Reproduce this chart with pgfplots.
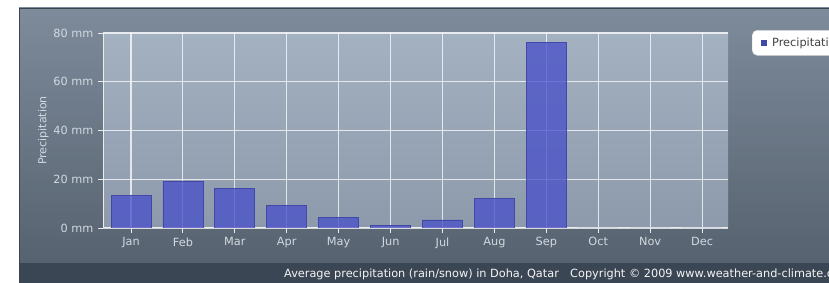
\documentclass[border=0pt]{standalone}
\usepackage{pgfplots}
\pgfplotsset{compat=1.18}
\usepackage{fontspec}
\setmainfont{DejaVu Sans}
\definecolor{frametop}{HTML}{7E8B9B}
\definecolor{framebot}{HTML}{56626F}
\definecolor{strip}{HTML}{3B4655}
\definecolor{plottop}{HTML}{A3B1C1}
\definecolor{plotbot}{HTML}{8D9AAB}
\definecolor{barfill}{HTML}{4A52C8}
\definecolor{bardraw}{HTML}{4148A8}
\definecolor{ticktext}{HTML}{D2D9E0}
\begin{document}
\begin{tikzpicture}[x=1pt,y=1pt]
\path[use as bounding box] (0,0) rectangle (829,283);
\begin{scope}
\clip (0,0) rectangle (829,283);
\fill[white] (0,0) rectangle (829,283);
\shade[top color=frametop, bottom color=framebot] (19,20) rectangle (829,275);
\fill[strip] (19,0) rectangle (829,20);
\draw[color=framebot!70!black, line width=0.8pt] (19,0) -- (19,275) -- (829,275);
\shade[top color=plottop, bottom color=plotbot] (103,55) rectangle (728,250);
\begin{axis}[
  at={(103pt,55pt)}, anchor=south west,
  scale only axis, width=625pt, height=195pt,
  xmin=-0.54, xmax=11.5, ymin=0, ymax=80,
  ybar, bar width=40pt,
  xtick={0,...,11},
  xticklabels={Jan,Feb,Mar,Apr,May,Jun,Jul,Aug,Sep,Oct,Nov,Dec},
  ytick={0,20,40,60,80},
  yticklabels={0 mm,20 mm,40 mm,60 mm,80 mm},
  tick label style={font=\fontsize{11.3}{13}\selectfont, text=ticktext},
  xticklabel style={yshift=-1pt},
  yticklabel style={xshift=-1pt},
  tick align=outside, major tick length=5pt,
  tick style={draw=white!85!gray, line width=0.9pt},
  xmajorgrids, ymajorgrids,
  grid style={draw=white, draw opacity=0.75, line width=1.1pt},
  axis line style={draw=white!85!gray, line width=1pt},
  axis x line*=bottom, axis y line*=left,
  ylabel={Precipitation},
  ylabel style={font=\fontsize{11}{13}\selectfont, text=ticktext},
  ylabel shift=-2pt,
  legend style={at={(rel axis cs:1.0384,1.015)}, anchor=north west,
     draw=gray!35, fill=white, rounded corners=5pt, font=\fontsize{11.3}{13}\selectfont, text=black!75,
     inner xsep=9pt, inner ysep=5.5pt},
  legend image code/.code={\path[draw=none,fill=none] (0pt,0pt) -- (9pt,0pt);\fill[sharp corners,draw=none,fill=bardraw,fill opacity=1] (0pt,-3pt) rectangle (6pt,3pt);},
]
\addplot[fill=barfill, fill opacity=0.78, draw=bardraw, line width=0.8pt]
  coordinates {(0,13.3) (1,19.0) (2,16.3) (3,9.2) (4,4.2) (5,1.2) (6,3.3) (7,12.2) (8,76.0) (9,0) (10,0) (11,0)};
\addlegendentry{Precipitation}
\end{axis}
\node[anchor=base west, text=white!92!gray, font=\fontsize{11.3}{13}\selectfont, inner sep=0pt] at (284,5)
  {Average precipitation (rain/snow) in Doha, Qatar\quad Copyright © 2009 www.weather-and-climate.com};
\end{scope}
\end{tikzpicture}
\end{document}
